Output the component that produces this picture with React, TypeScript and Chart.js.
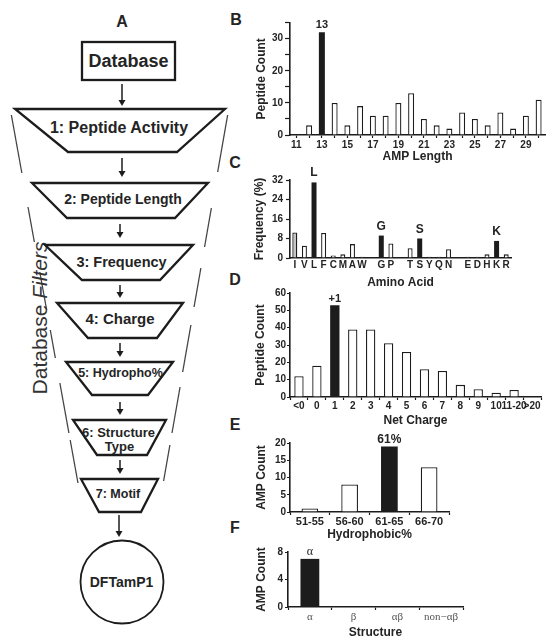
import React, { useEffect, useRef } from 'react';
import { Chart, registerables } from 'chart.js';

Chart.register(...registerables);

const SANS = '"Liberation Sans", Arial, Helvetica, sans-serif';
const SERIF = '"Liberation Serif", "Times New Roman", serif';
const INK = '#1c1c1c';
const TEXT = '#242424';

// ---------- Panel B: AMP length ----------
const lengthLabels = ['11', '12', '13', '14', '15', '16', '17', '18', '19', '20', '21', '22', '23', '24', '25', '26', '27', '28', '29', '30'];
const lengthCounts = [0, 3, 32, 10, 3, 9, 6, 6, 10, 13, 5, 3, 2, 7, 5, 3, 7, 2, 6, 11];
const lengthTickLabels = ['11', '13', '15', '17', '19', '21', '23', '25', '27', '29'];
const lengthYTicks = [0, 10, 20, 30];
const lengthHighlight = ['13'];
const lengthNotes = [{ at: '13', text: '13' }];

// ---------- Panel C: amino acid frequency ----------
const aminoLabels = ['I', 'V', 'L', 'F', 'C', 'M', 'A', 'W', '', 'G', 'P', '', 'T', 'S', 'Y', 'Q', 'N', '', 'E', 'D', 'H', 'K', 'R'];
const aminoFreq = [10.5, 5, 31, 10.3, 1, 1.5, 5.7, 0.5, null, 9.2, 6, null, 4, 8, 0.5, 0.5, 3.6, null, 0.5, 0.5, 1.5, 7, 1.5];
const aminoYTicks = [0, 8, 16, 24, 32];
const aminoHighlight = ['L', 'G', 'S', 'K'];
const aminoShaded = ['I'];
const aminoNotes = [
  { at: 'L', text: 'L' },
  { at: 'G', text: 'G' },
  { at: 'S', text: 'S' },
  { at: 'K', text: 'K' },
];

// ---------- Panel D: net charge ----------
const chargeLabels = ['<0', '0', '1', '2', '3', '4', '5', '6', '7', '8', '9', '10', '11-20', '>20'];
const chargeCounts = [12, 18, 53, 39, 39, 31, 26, 16, 15, 7, 4.5, 2.5, 4, 0];
const chargeYTicks = [0, 10, 20, 30, 40, 50, 60];
const chargeHighlight = ['1'];
const chargeNotes = [{ at: '1', text: '+1' }];

// ---------- Panel E: hydrophobic % ----------
const hydroLabels = ['51-55', '56-60', '61-65', '66-70'];
const hydroCounts = [1, 8, 19, 13];
const hydroYTicks = [0, 5, 10, 15, 20];
const hydroHighlight = ['61-65'];
const hydroNotes = [{ at: '61-65', text: '61%' }];

// ---------- Panel F: structure ----------
const structLabels = ['α', 'β', 'αβ', 'non−αβ'];
const structCounts = [7, 0, 0, 0];
const structYTicks = [0, 2, 4, 6, 8];
const structHighlight = ['α'];
const structNotes = [{ at: 'α', text: 'α' }];

// ---------- Panel A: filter funnel texts ----------
const filterSteps = [
  ['1: Peptide Activity'],
  ['2: Peptide Length'],
  ['3: Frequency'],
  ['4: Charge'],
  ['5: Hydropho%'],
  ['6: Structure', 'Type'],
  ['7: Motif'],
];

type Note = { at: string; text: string };
type PanelSpec = {
  id: string;
  box: number[]; // canvas left, top, width, height (page px)
  area: number[]; // plot area left, top, right, bottom (page px)
  labels: string[];
  values: (number | null)[];
  highlight: string[];
  shaded?: string[];
  notes: Note[];
  yMax: number;
  yStep: number;
  yTicks: number[];
  xTicks?: string[];
  xTitle: string;
  yTitle: string;
  xTitleY: number;
  yTitleX: number;
  barPct: number;
  xTickLen: number;
  xTickPad: number;
  xGridOffset: boolean;
  yTickLen: number;
  yTickPad: number;
  xFont: any;
  xColor?: string;
  noteFont: string;
  noteGap: number;
};

const panels: PanelSpec[] = [
  {
    id: 'B', box: [244, 4, 309, 164], area: [290, 22.7, 545, 135],
    labels: lengthLabels, values: lengthCounts, highlight: lengthHighlight, notes: lengthNotes,
    yMax: 35, yStep: 5, yTicks: lengthYTicks, xTicks: lengthTickLabels,
    xTitle: 'AMP Length', yTitle: 'Peptide Count', xTitleY: 156.5, yTitleX: 262,
    barPct: 0.47, xTickLen: 3, xTickPad: 1, xGridOffset: false, yTickLen: 5, yTickPad: 2,
    xFont: { family: SANS, size: 10, weight: 'bold' }, noteFont: `bold 11px ${SANS}`, noteGap: 4,
  },
  {
    id: 'C', box: [244, 160, 309, 132], area: [290, 180, 511, 258],
    labels: aminoLabels, values: aminoFreq, highlight: aminoHighlight, shaded: aminoShaded, notes: aminoNotes,
    yMax: 32, yStep: 8, yTicks: aminoYTicks,
    xTitle: 'Amino Acid', yTitle: 'Frequency (%)', xTitleY: 282.5, yTitleX: 260,
    barPct: 0.52, xTickLen: 0, xTickPad: 1, xGridOffset: true, yTickLen: 4, yTickPad: 3,
    xFont: { family: SANS, size: 10, weight: 'bold' }, noteFont: `bold 12px ${SANS}`, noteGap: 6,
  },
  {
    id: 'D', box: [244, 282, 309, 148], area: [290, 293, 541, 397],
    labels: chargeLabels, values: chargeCounts, highlight: chargeHighlight, notes: chargeNotes,
    yMax: 60, yStep: 10, yTicks: chargeYTicks,
    xTitle: 'Net Charge', yTitle: 'Peptide Count', xTitleY: 421, yTitleX: 261,
    barPct: 0.52, xTickLen: 3, xTickPad: 0, xGridOffset: true, yTickLen: 3, yTickPad: 1,
    xFont: { family: SANS, size: 10, weight: 'bold' }, noteFont: `bold 11px ${SANS}`, noteGap: 3,
  },
  {
    id: 'E', box: [244, 428, 260, 118], area: [290, 443, 449, 512],
    labels: hydroLabels, values: hydroCounts, highlight: hydroHighlight, notes: hydroNotes,
    yMax: 20, yStep: 5, yTicks: hydroYTicks,
    xTitle: 'Hydrophobic%', yTitle: 'AMP Count', xTitleY: 535, yTitleX: 262,
    barPct: 0.42, xTickLen: 3, xTickPad: 0, xGridOffset: true, yTickLen: 3, yTickPad: 1,
    xFont: { family: SANS, size: 11, weight: 'bold' }, noteFont: `bold 12px ${SANS}`, noteGap: 3,
  },
  {
    id: 'F', box: [244, 540, 260, 104], area: [288, 552, 463, 607],
    labels: structLabels, values: structCounts, highlight: structHighlight, notes: structNotes,
    yMax: 8, yStep: 2, yTicks: structYTicks,
    xTitle: 'Structure', yTitle: 'AMP Count', xTitleY: 633, yTitleX: 262,
    barPct: 0.43, xTickLen: 3, xTickPad: 1, xGridOffset: true, yTickLen: 3, yTickPad: 2,
    xFont: { family: SERIF, size: 11, weight: 'normal' }, xColor: '#555', noteFont: `12px ${SERIF}`, noteGap: 4,
  },
];

function BarPanel({ spec }: { spec: PanelSpec }) {
  const ref = useRef<HTMLCanvasElement>(null);
  useEffect(() => {
    const [bl, bt, bw, bh] = spec.box;
    const [al, at, ar, ab] = spec.area;
    const titleSize = 12;
    const half = (titleSize * 1.2) / 2;
    const titleFont = { family: SANS, size: titleSize, weight: 'bold' as const, lineHeight: 1.2 };
    const notePlugin = {
      id: 'barNotes' + spec.id,
      afterDatasetsDraw(chart: any) {
        const meta = chart.getDatasetMeta(0);
        const labels = chart.data.labels as string[];
        const ctx = chart.ctx;
        ctx.save();
        ctx.font = spec.noteFont;
        ctx.fillStyle = TEXT;
        ctx.textAlign = 'center';
        ctx.textBaseline = 'alphabetic';
        spec.notes.forEach((n) => {
          const el = meta.data[labels.indexOf(n.at)];
          if (el) ctx.fillText(n.text, el.x, el.y - spec.noteGap);
        });
        ctx.restore();
      },
    };
    const fills = spec.labels.map((l) =>
      spec.highlight.includes(l) ? INK : spec.shaded && spec.shaded.includes(l) ? '#c4c4c4' : '#ffffff'
    );
    const borders = spec.labels.map((l) => (spec.highlight.includes(l) ? 0 : 1.3));
    const chart = new Chart(ref.current as HTMLCanvasElement, {
      type: 'bar',
      data: {
        labels: spec.labels,
        datasets: [
          {
            data: spec.values as any,
            backgroundColor: fills,
            borderColor: INK,
            borderWidth: borders,
            barPercentage: spec.barPct,
            categoryPercentage: 1,
          },
        ],
      },
      options: {
        responsive: false,
        animation: false,
        events: [],
        layout: { padding: { left: 0, top: at - bt, right: bl + bw - ar, bottom: 0 } },
        plugins: { legend: { display: false }, tooltip: { enabled: false } },
        scales: {
          x: {
            type: 'category',
            offset: true,
            grid: {
              display: true,
              drawOnChartArea: false,
              drawTicks: spec.xTickLen > 0,
              tickLength: spec.xTickLen,
              offset: spec.xGridOffset,
              color: INK,
              tickColor: INK,
              tickWidth: 1.2,
            },
            border: { display: true, color: INK, width: 1.6 },
            ticks: {
              autoSkip: false,
              maxRotation: 0,
              minRotation: 0,
              padding: spec.xTickPad,
              color: spec.xColor || TEXT,
              font: spec.xFont,
              callback: (_v: any, i: number) => {
                const l = spec.labels[i];
                return !spec.xTicks || spec.xTicks.includes(l) ? l : '';
              },
            },
            title: {
              display: true,
              text: spec.xTitle,
              color: TEXT,
              font: titleFont,
              padding: { top: 0, bottom: bt + bh - spec.xTitleY - half },
            },
            afterFit: (s: any) => {
              s.height = bt + bh - ab;
            },
          },
          y: {
            min: 0,
            max: spec.yMax,
            grid: {
              display: true,
              drawOnChartArea: false,
              tickLength: spec.yTickLen,
              color: INK,
              tickColor: INK,
              tickWidth: 1.2,
            },
            border: { display: true, color: INK, width: 1.6 },
            ticks: {
              stepSize: spec.yStep,
              padding: spec.yTickPad,
              color: TEXT,
              font: { family: SANS, size: 10, weight: 'bold' },
              callback: (v: any) => (spec.yTicks.includes(Number(v)) ? String(v) : ''),
            },
            title: {
              display: true,
              text: spec.yTitle,
              color: TEXT,
              font: titleFont,
              padding: { top: spec.yTitleX - bl - half, bottom: 0 },
            },
            afterFit: (s: any) => {
              s.width = al - bl;
            },
          },
        },
      } as any,
      plugins: [notePlugin],
    });
    return () => chart.destroy();
  }, [spec]);
  const [bl, bt, bw, bh] = spec.box;
  return (
    <canvas
      ref={ref}
      width={bw}
      height={bh}
      style={{ position: 'absolute', left: bl, top: bt, width: bw, height: bh }}
    />
  );
}

// ---------- Funnel diagram geometry ----------
const trapGeom = [
  { pts: [[15, 109], [225, 109], [177, 152], [68, 152]], cx: 119, cy: 127, size: 16 },
  { pts: [[32, 183], [208, 183], [175, 218], [67, 218]], cx: 123, cy: 199, size: 14 },
  { pts: [[45, 245], [193, 245], [160, 280], [82, 280]], cx: 121.5, cy: 262, size: 14.5 },
  { pts: [[57, 303], [183, 303], [157, 338], [88, 338]], cx: 120, cy: 318, size: 15 },
  { pts: [[66, 362], [173, 362], [148, 395], [92, 395]], cx: 120.5, cy: 373, size: 12.5 },
  { pts: [[73, 420], [166, 420], [147, 455], [97, 455]], cx: 118.5, cy: 432, size: 13 },
  { pts: [[81, 479], [158, 479], [141, 512], [99, 512]], cx: 118, cy: 494, size: 12.5 },
];
const arrowGeom = [
  [122, 84, 106],
  [122, 158, 177],
  [120, 224, 238],
  [120, 285, 298],
  [120, 343, 357],
  [120, 402, 415],
  [120, 460, 474],
  [119, 515, 537],
];
const leftSegs = [[115, 173], [207, 242], [272, 310], [330, 358], [383, 433], [440, 483]];
const rightSegs = [[115, 172], [208, 247], [268, 307], [325, 372], [387, 433], [445, 481]];
const leftX = (y: number) => 11 + (y - 113) * 0.181;
const rightX = (y: number) => 228 - (y - 113) * 0.175;

function Arrow({ x, y1, y2 }: { x: number; y1: number; y2: number }) {
  return (
    <g>
      <line x1={x} y1={y1} x2={x} y2={y2 - 4} stroke={INK} strokeWidth={1.5} />
      <polygon points={`${x - 3.5},${y2 - 6} ${x + 3.5},${y2 - 6} ${x},${y2}`} fill={INK} />
    </g>
  );
}

function Funnel() {
  return (
    <svg width={553} height={639} style={{ position: 'absolute', left: 0, top: 0 }} fontFamily={SANS}>
      <text x={122} y={21} textAnchor="middle" dominantBaseline="central" fontWeight="bold" fontSize={16} fill={TEXT}>A</text>
      <text x={236} y={19} textAnchor="middle" dominantBaseline="central" fontWeight="bold" fontSize={16} fill={TEXT}>B</text>
      <text x={235} y={162} textAnchor="middle" dominantBaseline="central" fontWeight="bold" fontSize={16} fill={TEXT}>C</text>
      <text x={235} y={279} textAnchor="middle" dominantBaseline="central" fontWeight="bold" fontSize={16} fill={TEXT}>D</text>
      <text x={235} y={424} textAnchor="middle" dominantBaseline="central" fontWeight="bold" fontSize={16} fill={TEXT}>E</text>
      <text x={235} y={527} textAnchor="middle" dominantBaseline="central" fontWeight="bold" fontSize={16} fill={TEXT}>F</text>

      <rect x={82} y={42} width={93} height={38} fill="#fff" stroke={INK} strokeWidth={2.3} />
      <text x={128.5} y={61} textAnchor="middle" dominantBaseline="central" fontWeight="bold" fontSize={18} fill={TEXT}>Database</text>

      {leftSegs.map(([a, b], i) => (
        <line key={'l' + i} x1={leftX(a)} y1={a} x2={leftX(b)} y2={b} stroke="#444" strokeWidth={1.3} />
      ))}
      {rightSegs.map(([a, b], i) => (
        <line key={'r' + i} x1={rightX(a)} y1={a} x2={rightX(b)} y2={b} stroke="#444" strokeWidth={1.3} />
      ))}

      <text
        transform="translate(39,318) rotate(-90)"
        textAnchor="middle"
        dominantBaseline="central"
        fontSize={21}
        fill="#333"
      >
        Database <tspan fontStyle="italic">Filters</tspan>
      </text>

      {trapGeom.map((t, i) => (
        <g key={'t' + i}>
          <polygon points={t.pts.map((p) => p.join(',')).join(' ')} fill="#fff" stroke={INK} strokeWidth={2.3} strokeLinejoin="miter" />
          {filterSteps[i].map((line, j) => (
            <text
              key={j}
              x={t.cx + (j > 0 ? 1 : 0)}
              y={t.cy + j * 14}
              textAnchor="middle"
              dominantBaseline="central"
              fontWeight="bold"
              fontSize={t.size}
              fill={TEXT}
            >
              {line}
            </text>
          ))}
        </g>
      ))}

      {arrowGeom.map(([x, a, b], i) => (
        <Arrow key={'a' + i} x={x} y1={a} y2={b} />
      ))}

      <circle cx={122} cy={582} r={41.5} fill="#fff" stroke={INK} strokeWidth={1.8} />
      <text x={121.5} y={582} textAnchor="middle" dominantBaseline="central" fontWeight="bold" fontSize={14} fill={TEXT}>DFTamP1</text>
    </svg>
  );
}

export default function App() {
  return (
    <div
      style={{
        position: 'absolute',
        left: 0,
        top: 0,
        width: 553,
        height: 639,
        overflow: 'hidden',
        background: '#fff',
      }}
    >
      <Funnel />
      {panels.map((p) => (
        <BarPanel key={p.id} spec={p} />
      ))}
    </div>
  );
}
